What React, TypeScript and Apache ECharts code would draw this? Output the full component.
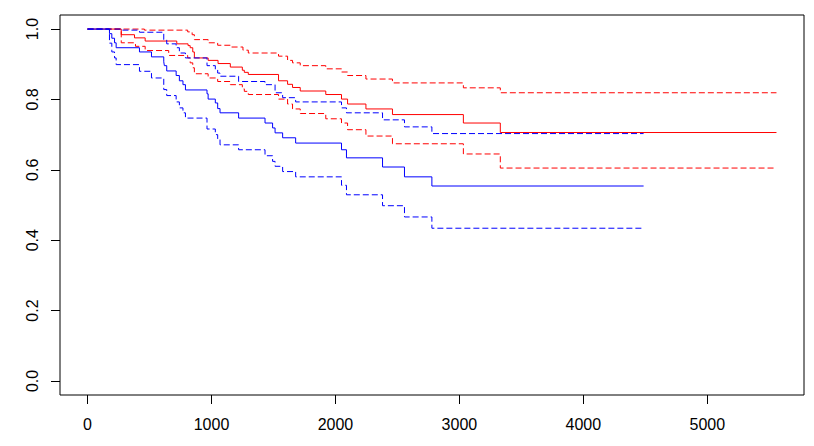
import React, { useEffect, useRef } from "react";
import * as echarts from "echarts";

const xTicks = [0, 1000, 2000, 3000, 4000, 5000];
const yTicks = [0, 0.2, 0.4, 0.6, 0.8, 1.0];

const blueSolid: [number, number][] = [
  [0, 1], [177, 0.987], [196, 0.974], [218, 0.961], [231, 0.947], [419, 0.935], [516, 0.921],
  [615, 0.907], [620, 0.896], [639, 0.881], [715, 0.868], [741, 0.853], [770, 0.842], [790, 0.827],
  [964, 0.816], [973, 0.801], [1031, 0.79], [1050, 0.774], [1069, 0.762], [1219, 0.747], [1432, 0.733],
  [1493, 0.719], [1513, 0.705], [1574, 0.691], [1679, 0.676], [2049, 0.657], [2089, 0.634],
  [2380, 0.608], [2557, 0.58], [2778, 0.554], [4486, 0.554],
];
const blueLower: [number, number][] = [
  [0, 1], [177, 0.96], [196, 0.935], [218, 0.918], [231, 0.899], [419, 0.88], [516, 0.861],
  [615, 0.828], [639, 0.811], [715, 0.793], [741, 0.776], [770, 0.762], [790, 0.747], [964, 0.716],
  [1031, 0.7], [1050, 0.686], [1069, 0.671], [1219, 0.657], [1432, 0.64], [1493, 0.624], [1513, 0.61],
  [1574, 0.595], [1679, 0.58], [2049, 0.556], [2089, 0.529], [2380, 0.498], [2557, 0.466],
  [2778, 0.434], [4486, 0.434],
];
const blueUpper: [number, number][] = [
  [0, 1], [282, 0.997], [419, 0.991], [615, 0.97], [639, 0.958], [715, 0.947], [741, 0.932],
  [790, 0.918], [964, 0.896], [1031, 0.885], [1050, 0.875], [1069, 0.866], [1219, 0.851],
  [1432, 0.842], [1513, 0.819], [1574, 0.805], [1679, 0.793], [2049, 0.776], [2089, 0.762],
  [2380, 0.742], [2557, 0.722], [2778, 0.703], [4486, 0.703],
];
const redSolid: [number, number][] = [
  [0, 1], [272, 0.984], [379, 0.975], [465, 0.966], [720, 0.958], [811, 0.953], [828, 0.947],
  [849, 0.935], [862, 0.918], [973, 0.911], [1053, 0.902], [1152, 0.892], [1249, 0.883],
  [1265, 0.877], [1297, 0.871], [1541, 0.853], [1614, 0.843], [1654, 0.834], [1716, 0.824],
  [1922, 0.814], [2049, 0.801], [2098, 0.787], [2246, 0.773], [2460, 0.757], [3032, 0.733],
  [3330, 0.706], [5558, 0.706],
];
const redUpper: [number, number][] = [
  [0, 1], [459, 0.997], [808, 0.992], [844, 0.984], [862, 0.97], [973, 0.961], [1050, 0.954],
  [1152, 0.949], [1254, 0.94], [1297, 0.932], [1541, 0.923], [1614, 0.911], [1654, 0.904],
  [1716, 0.896], [1922, 0.887], [2049, 0.878], [2098, 0.868], [2246, 0.858], [2460, 0.847],
  [3032, 0.833], [3330, 0.819], [5558, 0.819],
];
const redLower: [number, number][] = [
  [0, 1], [272, 0.961], [387, 0.951], [465, 0.939], [655, 0.925], [808, 0.918], [828, 0.904],
  [849, 0.89], [862, 0.873], [973, 0.861], [1050, 0.851], [1152, 0.842], [1249, 0.83],
  [1265, 0.823], [1297, 0.814], [1541, 0.801], [1614, 0.787], [1654, 0.773], [1716, 0.76],
  [1922, 0.745], [2049, 0.733], [2098, 0.714], [2246, 0.696], [2460, 0.674], [3032, 0.645],
  [3330, 0.605], [5558, 0.605],
];

const FONT = "'Liberation Sans', Arial, sans-serif";

function stepSeries(data: [number, number][], color: string, dashed: boolean) {
  return {
    type: "line",
    step: "end",
    data,
    showSymbol: false,
    symbol: "none",
    silent: true,
    lineStyle: { color, width: 1, type: dashed ? [6, 3] : "solid" },
  };
}

export default function App() {
  const ref = useRef<HTMLDivElement>(null);
  useEffect(() => {
    document.body.style.margin = "0";
    if (!ref.current) return;
    const chart = echarts.init(ref.current, null, { renderer: "svg" });
    chart.setOption({
      animation: false,
      backgroundColor: "#ffffff",
      grid: {
        left: 60, right: 10, top: 15, bottom: 51,
        show: true, borderColor: "#000", borderWidth: 1, backgroundColor: "transparent",
      },
      xAxis: {
        type: "value", min: -222, max: 5780,
        axisLine: { show: false, onZero: false },
        splitLine: { show: false },
        axisTick: { show: true, length: 9, inside: false, customValues: xTicks, lineStyle: { color: "#000" } },
        axisLabel: {
          customValues: xTicks, margin: 21, color: "#000", fontSize: 16, fontFamily: FONT,
          formatter: (v: number) => String(v),
        },
      },
      yAxis: {
        type: "value", min: -0.04, max: 1.04,
        axisLine: { show: false, onZero: false },
        splitLine: { show: false },
        axisTick: { show: true, length: 9, inside: false, customValues: yTicks, lineStyle: { color: "#000" } },
        axisLabel: {
          customValues: yTicks, margin: 20, rotate: 90, color: "#000", fontSize: 16, fontFamily: FONT,
          formatter: (v: number) => v.toFixed(1),
        },
      },
      series: [
        stepSeries(redSolid, "#ff0000", false),
        stepSeries(redUpper, "#ff0000", true),
        stepSeries(redLower, "#ff0000", true),
        stepSeries(blueSolid, "#0000ff", false),
        stepSeries(blueUpper, "#0000ff", true),
        stepSeries(blueLower, "#0000ff", true),
      ],
    });
    return () => chart.dispose();
  }, []);
  return <div ref={ref} style={{ width: 814, height: 446 }} />;
}
